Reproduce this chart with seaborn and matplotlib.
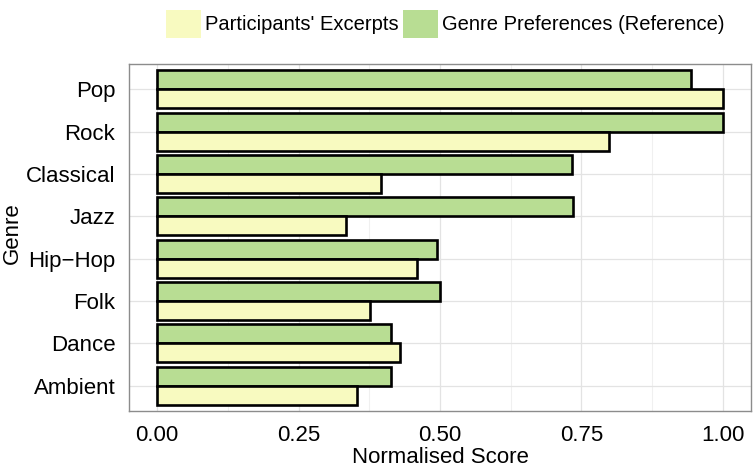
import matplotlib
matplotlib.use("Agg")
import matplotlib.pyplot as plt
from matplotlib.patches import Patch
from matplotlib.ticker import MultipleLocator
import seaborn as sns
import pandas as pd

genres = ["Pop", "Rock", "Classical", "Jazz", "Hip\u2212Hop", "Folk", "Dance", "Ambient"]
reference = [0.944, 1.00, 0.733, 0.736, 0.494, 0.500, 0.414, 0.414]
participants = [1.00, 0.798, 0.396, 0.334, 0.459, 0.377, 0.429, 0.354]
series_names = ["Participants' Excerpts", "Genre Preferences (Reference)"]
colors = {"Participants' Excerpts": "#f8fac0", "Genre Preferences (Reference)": "#b8dd93"}

df = pd.DataFrame({
    "Genre": genres * 2,
    "Score": participants + reference,
    "Series": [series_names[0]] * len(genres) + [series_names[1]] * len(genres),
})

sns.set_style("white")
plt.rcParams["font.family"] = ["Liberation Sans", "DejaVu Sans"]
plt.rcParams["text.color"] = "black"
plt.rcParams["axes.labelcolor"] = "black"
FS = 16

fig = plt.figure(figsize=(7.56, 4.67), dpi=100)
ax = fig.add_axes([0.1706, 0.1199, 0.8228, 0.7430])

sns.barplot(data=df, y="Genre", x="Score", hue="Series", order=genres,
            hue_order=[series_names[1], series_names[0]], palette=colors,
            saturation=1, orient="h", width=0.9, edgecolor="black", linewidth=1.9,
            legend=False, ax=ax, zorder=3)

ax.set_xlim(-0.05, 1.05)
ax.set_ylim(7.6, -0.6)
ax.xaxis.set_major_locator(MultipleLocator(0.25))
ax.xaxis.set_minor_locator(MultipleLocator(0.125))
ax.set_xticklabels([f"{v:.2f}" for v in ax.get_xticks()])
ax.grid(True, which="major", color="#e3e3e3", linewidth=0.9, zorder=0)
ax.grid(True, which="minor", axis="x", color="#f0f0f0", linewidth=0.8, zorder=0)
ax.set_axisbelow(True)
for s in ax.spines.values():
    s.set_color("#8c8c8c")
    s.set_linewidth(1.0)
ax.tick_params(axis="both", which="major", length=5.8, width=1.3, color="#222222",
               labelsize=FS, labelcolor="black", pad=4)
ax.tick_params(axis="x", which="minor", length=0)
ax.set_xlabel("Normalised Score", fontsize=FS, labelpad=1, color="black")
ax.set_ylabel("")
fig.text(12 / 756, 1 - 233 / 467, "Genre", rotation=90, ha="center", va="center",
         fontsize=FS, color="black")

handles = [Patch(facecolor=colors[n], edgecolor="none", label=n) for n in series_names]
fig.legend(handles=handles, loc="upper center", bbox_to_anchor=(0.589, 1.0), ncol=2,
           frameon=False, fontsize=14.5, handlelength=1.72, handleheight=1.72,
           handletextpad=0.2, columnspacing=0.25, borderaxespad=0.1, labelcolor="black")

fig.savefig("out.png", dpi=100)
